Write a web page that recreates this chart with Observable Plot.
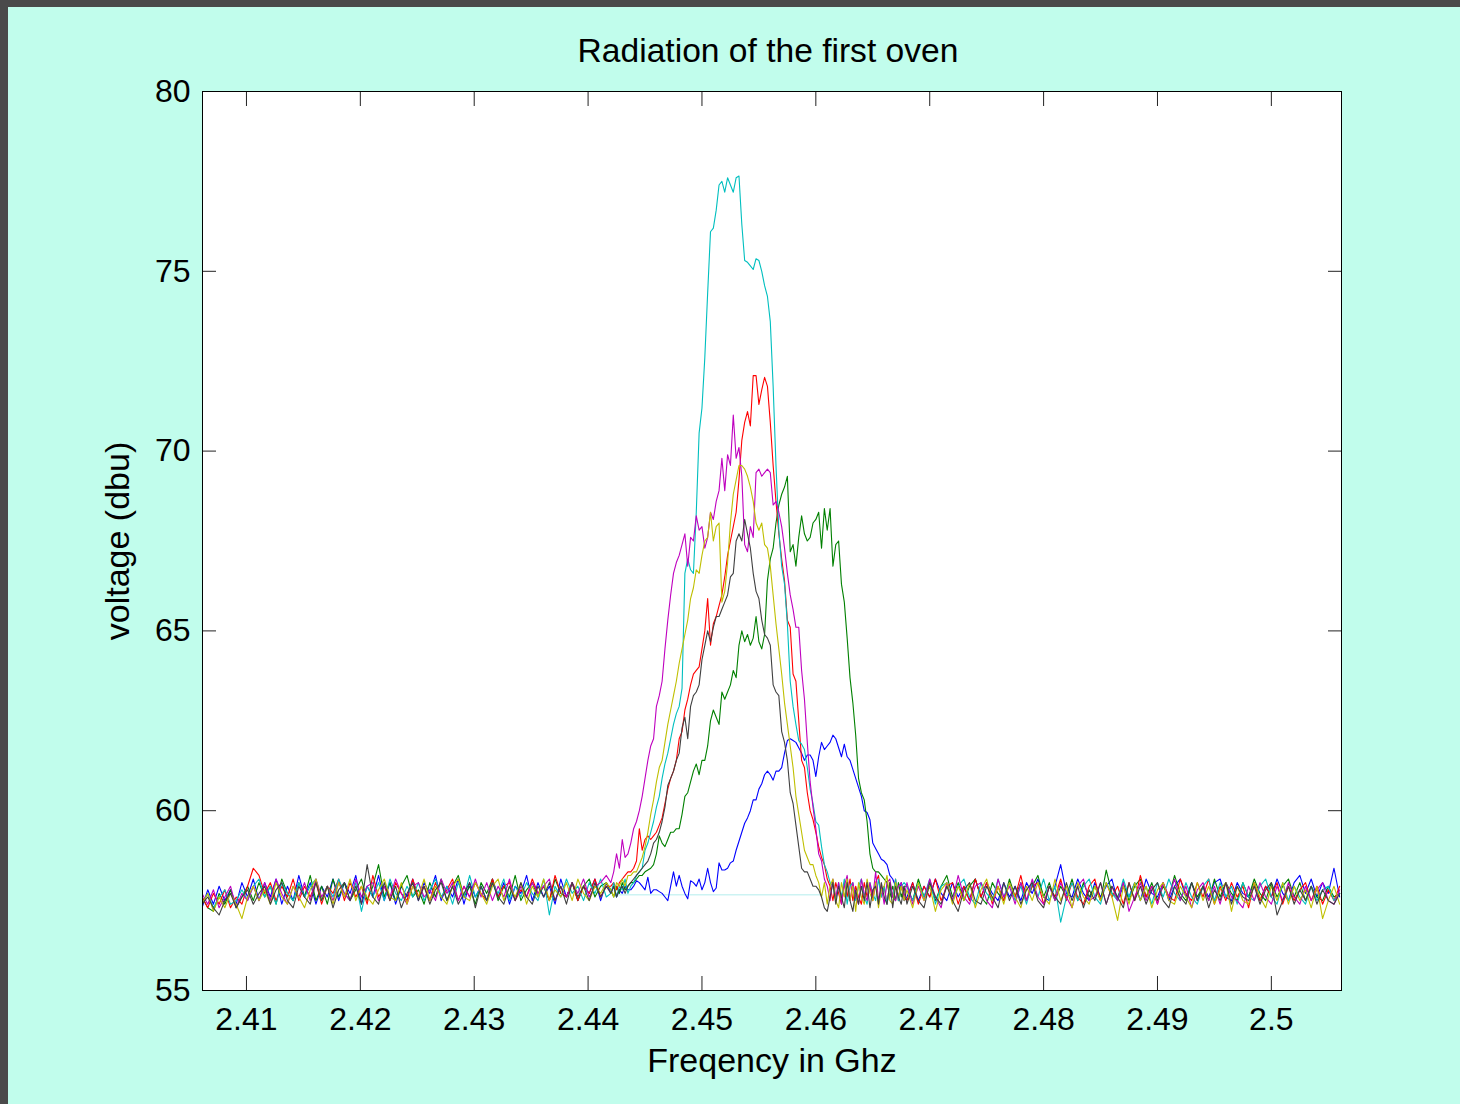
<!DOCTYPE html>
<html>
<head>
<meta charset="utf-8">
<script src="https://cdn.jsdelivr.net/npm/d3@7"></script>
<script src="https://cdn.jsdelivr.net/npm/@observablehq/plot@0.6"></script>
<style>
html, body { margin: 0; padding: 0; }
body { width: 1460px; height: 1104px; background: #c1fdec; position: relative; overflow: hidden;
       font-family: "Liberation Sans", Arial, Helvetica, sans-serif; }
#topbar { position: absolute; left: 0; top: 0; width: 1460px; height: 7px; background: #4a4a4a; }
#leftbar { position: absolute; left: 0; top: 0; width: 8px; height: 1104px; background: #4a4a4a; }
#title { position: absolute; left: 468px; width: 600px; top: 34px; text-align: center;
         font-size: 33.6px; line-height: 33px; color: #000; white-space: nowrap; }
#chart { position: absolute; left: 8px; top: 7px; }
</style>
</head>
<body>
<div id="topbar"></div>
<div id="leftbar"></div>
<div id="chart"></div>
<div id="title">Radiation of the first oven</div>
<script>
// ---- frequency sweep layout (GHz) ----
const leftStart = 2.4061, coarseStep = 0.0005;
const fineStart = 2.442, fineStep = 0.00025;
const rightStart = 2.468;

// ---- axis ticks ----
const xTicks = [2.41, 2.42, 2.43, 2.44, 2.45, 2.46, 2.47, 2.48, 2.49, 2.5];
const yTicks = [55, 60, 65, 70, 75, 80];

// ---- flat cyan floor segment ----
const cyanFloorFreq = [2.4423, 2.4606];
const cyanFloorLevel = [57.66, 57.66];

// ---- blue (b) ----
const blueLeft = [57.3,57.8,57.4,57.9,57.5,57.8,57.4,58.0,57.6,58.1,
57.5,58.0,57.6,58.1,57.4,57.9,57.5,58.2,57.6,58.0,
57.4,57.9,57.6,58.1,57.5,58.0,57.7,58.2,57.4,57.9,
57.6,58.2,57.5,58.0,57.4,57.9,57.6,58.1,57.5,58.0,
57.7,58.2,57.5,57.9,57.6,58.1,57.4,58.0,57.6,57.9,
57.5,58.1,57.6,58.0,57.4,57.9,57.7,58.2,57.5,58.0,
57.6,57.9,57.4,58.1,57.6,58.0,57.5,57.9,57.7,58.1,
57.5,58.0];
const blueFine = [57.7,57.9,57.6,57.8,57.7,57.9,57.8,57.8,
57.9,58.05,58.0,57.9,57.8,58.15,57.7,57.8,
57.8,57.75,57.7,57.6,57.5,57.9,58.3,57.9,
58.2,57.9,57.7,57.55,58.05,58.0,57.9,58.1,
57.8,58.0,58.4,58.0,57.75,57.85,58.55,58.35,
58.35,58.4,58.55,58.6,58.9,59.15,59.4,59.65,
59.8,60.0,60.3,60.3,60.6,60.75,61.0,61.1,
61.0,60.85,61.1,61.1,61.2,61.6,61.95,62.0,
61.95,61.9,61.75,61.6,61.4,61.55,61.55,61.4,
60.95,61.5,61.9,61.7,61.8,61.9,62.1,62.0,
61.75,61.5,61.85,61.5,61.4,61.15,60.9,60.65,
60.4,60.0,59.95,59.75,59.1,58.95,58.8,58.65,
58.6,58.5,58.2,58.1,57.9,57.6,58.0,57.5];
const blueRight = [57.6,58.0,57.5,57.9,57.6,58.1,57.7,57.5,58.0,57.6,
57.9,57.5,58.1,57.6,58.0,57.7,57.5,58.0,57.6,57.9,
57.5,58.0,57.7,58.1,57.6,57.5,57.9,58.5,57.7,57.6,
58.1,57.7,57.5,58.0,57.6,57.9,58.1,57.5,57.9,57.6,
58.0,57.5,58.1,57.7,57.6,58.0,57.5,57.9,58.1,57.6,
58.0,57.5,57.9,57.6,58.0,58.1,57.6,57.5,58.0,57.7,
57.6,58.0,57.5,57.9,57.6,58.1,57.7,57.5,58.0,58.2,
57.7,58.1,57.6,58.0,57.7,58.4,57.6];

// ---- green (g) ----
const greenLeft = [57.6,57.3,57.2,57.7,57.4,57.8,57.3,57.6,57.9,57.5,
58.0,57.6,57.9,57.4,58.1,57.7,57.5,58.0,57.6,58.2,
57.5,57.9,57.4,58.1,57.6,58.0,57.5,57.8,58.1,57.5,
57.9,58.5,57.6,58.0,57.5,57.9,58.2,57.6,57.8,57.4,
58.0,57.6,58.1,57.5,57.9,58.2,57.6,57.9,57.4,58.0,
57.7,58.1,57.5,57.9,57.6,58.2,57.5,57.8,58.0,57.6,
57.9,57.5,58.1,57.7,57.6,58.0,57.5,57.9,58.1,57.6,
57.9,58.0];
const greenFine = [57.8,57.6,57.9,57.7,58.0,57.8,57.9,58.0,
58.0,58.1,58.2,58.2,58.3,58.35,58.4,58.5,
58.8,59.3,59.1,59.0,59.2,59.4,59.4,59.5,
59.5,59.9,60.4,60.5,60.8,61.1,61.3,61.0,
61.4,61.4,61.8,62.5,62.8,62.6,62.4,63.3,
63.1,63.3,63.5,63.9,63.7,64.6,65.0,64.7,
64.9,64.6,64.8,65.4,64.7,64.5,64.9,66.4,
67.0,67.3,68.0,68.5,68.8,69.0,69.3,67.2,
67.4,66.8,67.6,68.2,67.7,67.5,67.6,68.0,
68.1,68.3,67.3,68.4,67.8,68.4,66.8,67.4,
67.5,66.3,65.8,64.8,63.7,63.0,62.1,60.9,
60.5,60.3,59.7,58.8,58.4,58.3,58.3,58.2,
58.1,58.0,57.6,57.9,57.5,58.0,57.6,57.9];
const greenRight = [57.9,57.5,58.1,57.6,58.0,57.5,57.9,58.2,57.6,58.0,
57.5,57.9,58.1,57.6,57.4,58.0,57.7,57.5,58.1,57.6,
58.0,57.5,57.9,58.2,57.6,58.0,57.5,57.9,57.6,58.1,
57.5,58.0,57.6,57.9,57.5,58.35,57.7,57.6,58.0,57.5,
57.9,58.1,57.6,58.0,57.5,57.9,57.6,58.2,57.7,57.5,
58.0,57.6,57.9,57.5,58.1,57.6,58.0,57.7,57.5,58.0,
57.6,58.1,57.7,57.5,58.0,57.6,57.9,58.1,57.6,58.0,
57.5,57.9,57.6,57.5,57.9,57.6,57.7];

// ---- red (r) ----
const redLeft = [57.6,57.3,57.7,57.4,57.8,57.3,57.6,57.4,57.9,58.4,
58.2,57.7,58.0,57.5,57.9,57.6,58.1,57.5,57.9,57.6,
58.0,57.4,57.9,57.7,58.1,57.5,58.0,57.6,57.9,57.4,
58.2,57.6,57.9,57.5,58.0,57.7,57.5,58.1,57.6,57.9,
57.5,58.0,57.6,57.8,58.1,57.5,57.9,57.6,58.0,57.7,
57.5,58.1,57.6,57.9,58.0,57.5,57.8,57.6,58.1,57.7,
57.9,57.5,58.2,57.7,57.6,58.0,57.5,57.9,57.7,58.1,
57.6,57.9];
const redFine = [57.9,58.0,57.8,58.0,58.1,58.2,58.3,58.3,
58.4,58.6,59.5,58.9,59.2,59.3,59.2,59.3,
59.4,59.6,59.8,60.2,60.6,60.9,61.1,61.4,
62.0,62.2,62.8,63.1,63.5,63.8,63.9,64.0,
64.5,65.0,65.9,64.6,65.2,65.4,65.7,66.0,
66.5,67.1,67.5,67.9,68.3,69.2,70.3,70.8,
71.1,70.7,72.1,72.1,71.3,71.7,72.05,71.8,
70.8,69.6,68.6,67.7,67.0,66.4,65.3,65.1,
63.8,63.6,62.5,61.4,61.2,60.5,60.0,59.75,
59.4,59.0,58.7,58.5,58.1,57.9,57.5,58.0,
57.7,57.4,58.0,57.6,58.1,57.5,57.9,57.6,
57.4,58.0,57.6,57.9,57.5,58.0,58.2,57.6,
57.9,57.4,58.0,57.6,58.1,57.5,57.9,57.6];
const redRight = [57.5,58.0,57.4,57.9,57.6,58.1,57.5,57.9,58.0,57.4,
57.9,57.5,58.1,57.6,58.0,57.4,57.9,57.5,58.0,57.6,
58.2,57.5,57.9,58.0,57.4,57.9,57.6,58.1,57.5,58.0,
57.6,57.4,57.9,58.1,57.5,58.0,57.6,57.9,57.4,58.0,
57.5,58.2,57.6,57.9,57.4,58.0,57.6,57.5,58.1,57.7,
57.5,58.0,57.6,58.1,57.4,57.9,57.5,58.0,57.6,57.9,
57.3,58.0,57.5,57.9,57.6,58.0,57.4,57.9,57.5,57.8,
58.0,57.5,57.9,57.4,57.8,57.5,57.9];

// ---- cyan (c) ----
const cyanLeft = [57.4,57.7,57.3,57.6,57.8,57.4,57.5,57.8,57.5,57.9,
58.1,57.6,57.9,57.4,58.0,57.7,57.5,58.0,57.6,57.9,
58.1,57.5,57.9,57.6,58.1,57.7,57.5,58.0,57.2,57.9,
57.6,58.0,57.5,58.1,57.7,57.5,57.9,57.6,58.0,57.5,
57.8,58.1,57.6,57.9,57.4,58.0,57.6,58.2,57.6,57.9,
57.5,58.0,57.7,58.1,57.5,57.9,57.6,58.0,57.7,57.5,
58.1,57.1,57.9,57.6,58.1,57.7,57.9,57.5,58.0,57.7,
58.1,57.6];
const cyanFine = [57.7,58.0,57.6,57.9,57.8,58.1,57.7,57.9,
58.0,58.2,58.3,58.4,58.9,59.1,59.4,59.7,
60.1,60.4,60.9,61.3,61.6,62.0,62.4,62.7,
62.9,63.4,66.6,67.0,66.7,66.6,68.3,70.5,
71.2,72.6,74.4,76.1,76.2,76.7,77.4,77.5,
77.2,77.6,77.4,77.2,77.6,77.65,76.3,75.3,
75.25,75.15,75.05,75.35,75.3,75.0,74.6,74.3,
73.6,71.8,69.6,67.8,66.8,66.3,65.2,63.6,
62.9,62.4,61.95,61.85,61.7,61.2,60.6,60.2,
59.7,59.6,59.0,58.5,58.3,58.0,57.9,57.5,
58.0,57.6,58.1,57.4,57.9,58.0,57.5,57.9,
58.1,57.6,57.4,58.0,57.7,57.5,58.1,57.6,
57.9,57.4,57.9,57.6,58.1,57.5,57.9,58.0];
const cyanRight = [57.9,57.5,58.0,57.6,58.1,57.4,57.9,58.0,57.5,57.9,
58.1,57.6,57.4,58.0,57.7,57.5,58.1,57.6,58.0,57.5,
57.9,57.4,58.0,57.6,58.1,57.5,57.9,56.9,57.6,58.0,
57.5,57.9,58.1,57.6,57.4,58.0,57.7,57.5,58.1,57.6,
58.0,57.5,57.9,57.4,58.0,57.6,58.1,57.7,57.5,58.0,
57.6,57.4,57.9,58.1,57.5,58.0,57.6,57.9,57.4,58.0,
57.6,57.5,57.9,58.1,57.6,57.4,58.0,57.5,57.9,57.6,
57.4,57.9,57.5,57.8,57.9,57.5,57.7];

// ---- magenta (m) ----
const magentaLeft = [57.7,57.4,57.8,57.3,57.6,57.9,57.3,57.7,57.5,57.9,
57.5,58.0,57.5,58.1,57.7,57.4,57.9,57.6,58.0,57.5,
58.1,57.6,57.9,57.5,58.0,57.7,57.5,58.1,57.6,57.9,
58.0,57.5,57.9,57.6,58.1,57.7,57.4,57.9,58.0,57.6,
57.8,57.5,58.1,57.7,58.0,57.5,57.9,57.6,58.1,57.6,
58.0,57.5,57.9,57.6,58.1,57.5,57.9,57.6,58.0,57.7,
57.9,58.1,57.5,57.9,57.6,58.0,57.7,58.1,57.6,57.9,
58.0,58.2];
const magentaFine = [58.0,58.3,58.8,58.4,59.2,58.7,58.8,59.1,
59.5,59.7,60.0,60.4,60.9,61.4,61.8,62.0,
62.9,63.2,63.6,64.5,65.3,66.0,66.6,66.9,
67.1,67.4,67.7,66.8,67.6,67.5,68.2,67.8,
67.9,67.3,67.6,68.3,68.1,68.6,68.9,69.8,
68.9,69.9,69.6,71.0,69.8,70.1,69.3,67.4,
67.2,67.9,67.6,69.4,69.5,69.3,69.4,69.5,
69.4,68.5,68.6,68.3,67.9,67.3,66.6,66.0,
65.6,65.1,65.1,63.9,63.1,61.9,60.8,60.1,
59.5,58.8,58.6,58.1,57.9,57.5,58.1,57.6,
58.0,57.4,57.9,58.2,57.5,58.0,57.6,57.4,
58.1,57.7,57.5,58.0,57.6,58.3,57.5,57.9,
57.4,58.0,58.1,57.6,57.5,57.9,58.0,57.6];
const magentaRight = [58.0,57.4,57.9,57.5,58.1,57.6,57.3,58.0,57.5,58.2,
57.6,57.4,57.9,58.0,57.5,57.3,58.1,57.6,57.9,57.4,
58.0,57.5,58.1,57.6,57.4,57.9,57.5,58.0,57.6,57.3,
57.9,58.1,57.5,57.6,58.0,57.4,57.9,57.5,58.0,57.2,
57.6,58.0,57.5,57.9,57.4,58.0,57.6,58.1,57.5,57.9,
57.3,57.8,58.0,57.5,57.9,57.4,58.0,57.6,57.5,57.3,
57.9,57.5,58.0,57.6,57.4,57.9,57.5,58.0,57.6,57.4,
57.9,57.5,57.8,58.0,57.5,57.4,57.8];

// ---- yellow (y) ----
const yellowLeft = [57.4,57.7,57.2,57.6,57.3,57.7,57.4,57.0,57.6,57.9,
57.5,57.8,57.4,58.0,57.6,57.4,57.9,57.6,57.3,57.8,
58.1,57.5,57.9,57.4,58.0,57.6,58.1,57.5,57.9,57.6,
57.4,57.8,58.1,57.6,57.5,58.0,57.4,57.9,57.6,58.1,
57.5,57.9,57.6,57.4,57.9,58.1,57.6,57.5,58.0,57.7,
57.4,57.9,58.1,57.5,57.9,57.6,58.0,57.4,57.9,57.6,
58.1,57.5,57.8,57.6,58.0,57.5,58.1,57.7,57.5,57.9,
57.7,58.0];
const yellowFine = [57.8,57.6,58.0,57.9,58.1,57.9,58.2,58.2,
58.3,58.3,58.5,58.7,59.0,59.4,59.9,60.3,
60.8,61.2,61.4,61.9,62.4,62.8,63.2,63.6,
64.1,64.5,64.9,65.3,65.9,66.2,66.7,66.6,
67.1,67.5,67.6,68.3,67.5,67.9,68.0,65.8,
66.1,66.9,68.0,68.8,69.2,69.6,69.6,69.5,
69.3,69.0,68.6,68.0,67.8,68.0,67.4,67.3,
66.8,66.0,65.2,64.5,63.8,63.0,62.4,61.8,
61.2,60.4,59.9,59.4,58.9,58.7,58.5,58.5,
58.2,58.0,57.6,58.0,57.4,57.9,58.1,57.5,
57.3,58.0,57.6,58.1,57.5,57.9,57.2,58.0,
57.6,57.4,58.1,57.7,57.5,58.0,57.3,57.8,
57.9,58.2,57.5,57.4,58.0,57.6,57.9,57.5];
const yellowRight = [57.8,57.3,58.0,57.5,57.9,57.2,57.8,58.0,57.4,57.9,
57.5,58.0,57.3,57.8,58.1,57.5,57.9,57.4,58.0,57.6,
57.3,57.9,57.5,58.0,57.6,57.4,58.1,57.5,57.9,57.3,
58.0,57.6,57.4,57.9,57.5,58.0,57.6,56.95,57.9,57.4,
58.0,57.5,57.9,57.3,57.8,58.0,57.5,57.4,57.9,57.6,
57.3,58.0,57.5,57.9,57.4,57.8,58.0,57.2,57.9,57.5,
57.4,58.0,57.6,57.3,57.9,57.5,58.0,57.4,57.9,57.5,
57.8,57.3,57.9,57.0,57.5,57.9,57.4];

// ---- black (k) ----
const blackLeft = [57.4,57.6,57.3,57.1,57.5,57.7,57.3,57.6,57.8,57.4,
57.7,57.9,57.4,57.8,58.0,57.5,57.3,57.9,57.6,57.4,
58.0,57.5,57.9,57.3,57.8,58.0,57.5,57.9,57.4,58.5,
57.6,57.4,58.0,57.5,57.9,57.3,57.7,58.0,57.5,57.9,
57.4,57.8,58.0,57.5,57.9,57.4,57.7,58.0,57.3,57.9,
57.5,58.0,57.6,57.4,57.9,57.5,58.0,57.6,57.4,57.9,
57.6,58.0,57.5,57.9,57.4,58.0,57.6,57.9,57.5,58.0,
57.6,57.9];
const blackFine = [57.7,57.9,57.6,57.8,57.9,57.7,57.9,58.0,
58.1,58.2,58.3,58.4,58.5,58.6,58.8,59.1,
59.2,59.4,59.7,60.1,60.7,60.9,61.1,61.4,
61.6,62.3,62.6,62.0,62.9,63.2,63.3,63.5,
64.2,64.6,65.0,64.7,65.1,65.4,65.4,65.6,
65.8,66.0,66.5,66.6,67.5,67.7,67.5,68.1,
67.7,67.3,66.6,66.1,65.9,65.3,64.9,64.8,
64.6,63.5,63.3,63.2,62.2,61.9,61.4,60.5,
60.2,59.6,59.0,58.4,58.3,58.3,58.1,57.9,
57.9,57.8,57.6,57.3,57.2,57.6,58.0,57.4,
57.9,57.6,57.3,58.0,57.5,57.2,57.8,57.4,
57.9,57.5,58.0,57.3,57.8,57.9,57.4,58.0,
57.6,57.4,58.0,57.3,57.9,57.6,57.4,57.9];
const blackRight = [57.4,57.9,57.5,57.3,58.0,57.6,57.4,57.9,57.5,57.2,
57.8,58.0,57.5,57.4,57.9,57.6,57.3,58.0,57.5,57.9,
57.4,57.8,58.0,57.5,57.3,57.9,57.6,57.4,58.0,57.5,
57.9,57.3,57.8,57.5,58.0,57.4,57.9,57.6,57.3,58.0,
57.5,57.9,57.4,57.8,58.0,57.5,57.3,57.9,57.6,57.4,
58.0,57.5,57.9,57.3,57.8,57.5,58.0,57.4,57.9,57.6,
57.5,57.9,57.4,57.8,58.0,57.1,57.5,57.9,57.4,57.8,
57.5,57.9,57.4,57.8,57.5,57.4,57.7];

// ---- series (MATLAB default colour order b, g, r, c, m, y, k) ----
const seriesNames = ["b", "g", "r", "c", "m", "y", "k"];
const seriesColors = ["#0000ff", "#008000", "#ff0000", "#00bfbf", "#bf00bf", "#bfbf00", "#404040"];
const seriesLeft = [blueLeft, greenLeft, redLeft, cyanLeft, magentaLeft, yellowLeft, blackLeft];
const seriesFine = [blueFine, greenFine, redFine, cyanFine, magentaFine, yellowFine, blackFine];
const seriesRight = [blueRight, greenRight, redRight, cyanRight, magentaRight, yellowRight, blackRight];

function sweep(name, left, fine, right) {
  return [
    ...left.map((v, i) => ({s: name, f: leftStart + i * coarseStep, v})),
    ...fine.map((v, j) => ({s: name, f: fineStart + j * fineStep, v})),
    ...right.map((v, k) => ({s: name, f: rightStart + k * coarseStep, v}))
  ];
}

const floorData = cyanFloorFreq.map((f, i) => ({f, v: cyanFloorLevel[i]}));

const lineMarks = seriesNames.map((name, n) =>
  Plot.line(sweep(name, seriesLeft[n], seriesFine[n], seriesRight[n]), {
    x: "f", y: "v", stroke: seriesColors[n], strokeWidth: 1.1, clip: true
  })
);

const fmt = d => String(+d.toFixed(2));
const tickColor = "#222";

const chart = Plot.plot({
  width: 1452,
  height: 1097,
  marginLeft: 194,
  marginRight: 119,
  marginTop: 84,
  marginBottom: 114,
  style: {background: "transparent", color: "#000", fontFamily: '"Liberation Sans", Arial, Helvetica, sans-serif', fontSize: "32px", overflow: "visible"},
  x: {domain: [2.40614, 2.50616]},
  y: {domain: [55, 80]},
  marks: [
    Plot.frame({fill: "white", stroke: null}),
    Plot.line(floorData, {x: "f", y: "v", stroke: "#00bfbf", strokeOpacity: 0.3, strokeWidth: 1}),
    ...lineMarks,
    Plot.axisX(xTicks, {anchor: "bottom", tickSize: -14, tickFormat: () => "", label: null, stroke: tickColor}),
    Plot.axisX(xTicks, {anchor: "top", tickSize: -14, tickFormat: () => "", label: null, stroke: tickColor}),
    Plot.axisY(yTicks, {anchor: "left", tickSize: -14, tickFormat: () => "", label: null, stroke: tickColor}),
    Plot.axisY(yTicks, {anchor: "right", tickSize: -14, tickFormat: () => "", label: null, stroke: tickColor}),
    Plot.axisX(xTicks, {anchor: "bottom", tickSize: 0, tickPadding: 17, tickFormat: fmt, fontSize: 32, fill: "#000", label: null}),
    Plot.axisY(yTicks, {anchor: "left", tickSize: 0, tickPadding: 12, tickFormat: fmt, fontSize: 32, fill: "#000", label: null}),
    Plot.axisX(xTicks, {anchor: "bottom", tickSize: 0, tickFormat: () => "", fontSize: 34, fill: "#000",
      label: "Freqency in Ghz", labelAnchor: "center", labelOffset: 81, labelArrow: "none"}),
    Plot.axisY(yTicks, {anchor: "left", tickSize: 0, tickFormat: () => "", fontSize: 34, fill: "#000",
      label: "voltage (dbu)", labelAnchor: "center", labelOffset: 98, labelArrow: "none"}),
    Plot.frame({stroke: "#000", strokeWidth: 1})
  ]
});
document.getElementById("chart").appendChild(chart);
</script>
</body>
</html>
